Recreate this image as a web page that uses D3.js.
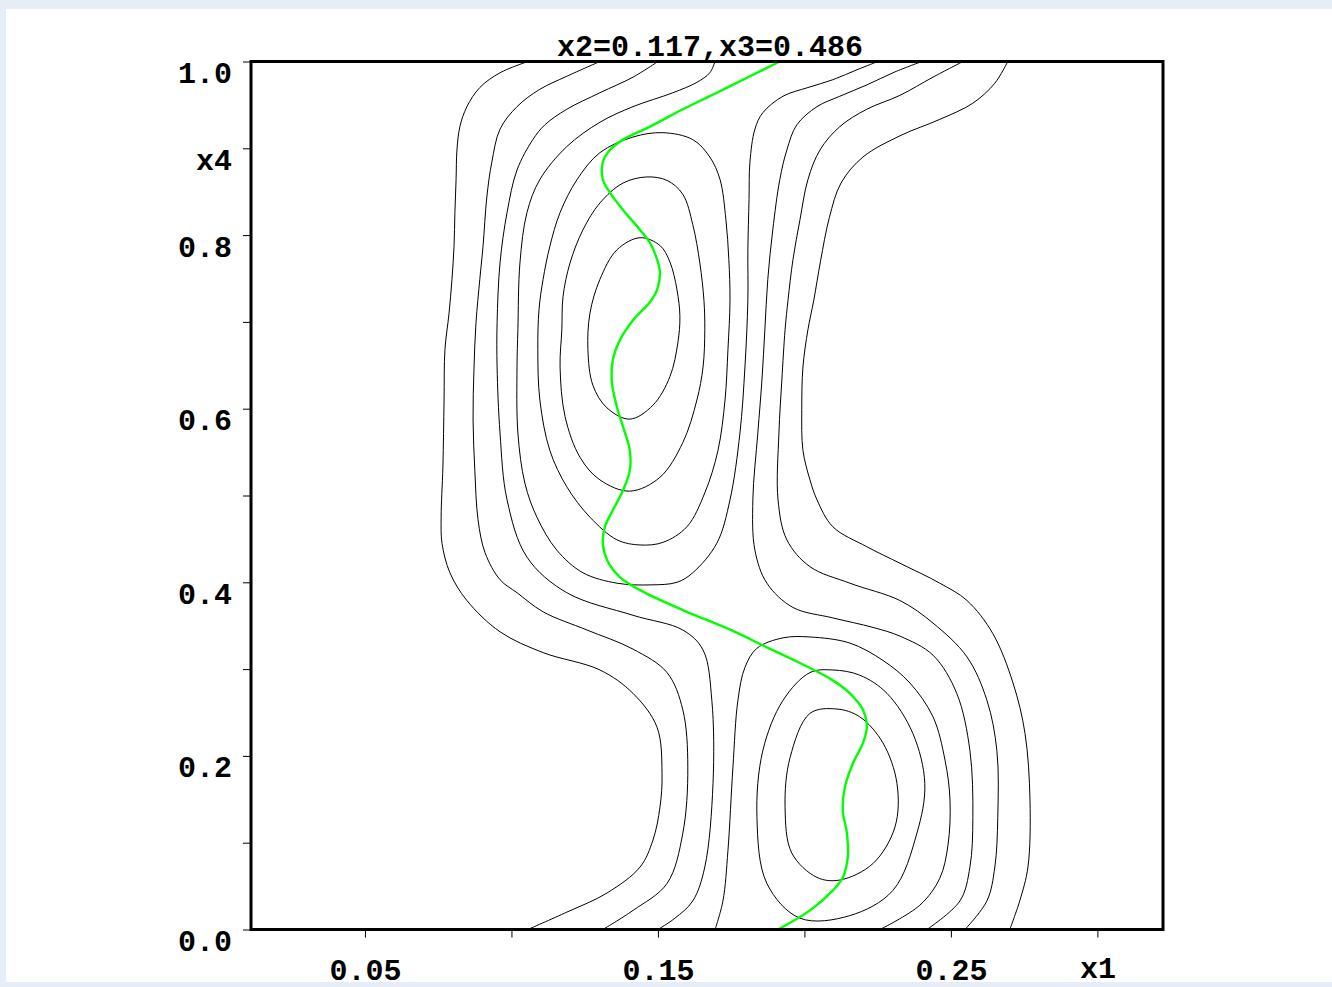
<!DOCTYPE html>
<html>
<head>
<meta charset="utf-8">
<script src="https://cdn.jsdelivr.net/npm/d3@7"></script>
<style>
  html, body { margin: 0; padding: 0; background: #e6edf6; }
  #panel { position: absolute; left: 6px; top: 9px; width: 1326px; height: 973px; background: #ffffff; overflow: hidden; }
  #panel svg { position: absolute; left: -6px; top: -9px; }
  text { font-family: "Liberation Mono", "DejaVu Sans Mono", monospace; font-weight: bold; font-size: 30px; fill: #000; }
</style>
</head>
<body>
<div id="panel"></div>
<script>
// Slice of the response surface: x1 across, x4 up, x2 and x3 held fixed.
const sliceLabel = "x2=0.117,x3=0.486";
const x1Domain = [0.0111, 0.3224];
const x4Domain = [0, 1];
const xTickValues = [0.05, 0.10, 0.15, 0.20, 0.25, 0.30];
const xTickLabels = ["0.05", "", "0.15", "", "0.25", "x1"];
const yTickValues = [0, 0.1, 0.2, 0.3, 0.4, 0.5, 0.6, 0.7, 0.8, 0.9, 1.0];
const yTickLabels = ["0.0", "", "0.2", "", "0.4", "", "0.6", "", "0.8", "x4", "1.0"];

// Level curves that run from the top edge to the bottom edge, left of the ridge
const leftBand1 = [[0.1056,1.000],[0.0961,0.987],[0.0892,0.970],[0.0848,0.948],[0.0824,0.925],[0.0814,0.898],[0.0811,0.864],[0.0807,0.826],[0.0804,0.787],[0.0797,0.749],[0.0787,0.710],[0.0773,0.668],[0.0770,0.610],[0.0766,0.533],[0.0760,0.475],[0.0763,0.445],[0.0790,0.411],[0.0848,0.379],[0.0961,0.343],[0.1108,0.319],[0.1302,0.299],[0.1415,0.272],[0.1497,0.233],[0.1514,0.180],[0.1507,0.141],[0.1483,0.103],[0.1439,0.072],[0.1326,0.042],[0.1189,0.020],[0.1056,0.000]];
const leftBand2 = [[0.1302,1.000],[0.1189,0.983],[0.1097,0.968],[0.1019,0.948],[0.0961,0.922],[0.0933,0.884],[0.0916,0.844],[0.0903,0.787],[0.0892,0.749],[0.0879,0.699],[0.0872,0.645],[0.0869,0.587],[0.0875,0.529],[0.0886,0.472],[0.0910,0.434],[0.0961,0.403],[0.1019,0.388],[0.1108,0.366],[0.1258,0.345],[0.1415,0.323],[0.1531,0.296],[0.1585,0.253],[0.1602,0.187],[0.1585,0.111],[0.1531,0.053],[0.1415,0.022],[0.1312,0.000]];
const leftBand3 = [[0.1500,1.000],[0.1415,0.982],[0.1302,0.964],[0.1189,0.945],[0.1114,0.927],[0.1073,0.910],[0.1019,0.875],[0.0985,0.826],[0.0961,0.768],[0.0951,0.699],[0.0951,0.648],[0.0961,0.572],[0.0985,0.495],[0.1053,0.429],[0.1189,0.388],[0.1415,0.362],[0.1585,0.345],[0.1654,0.322],[0.1684,0.264],[0.1688,0.168],[0.1660,0.072],[0.1619,0.033],[0.1558,0.013],[0.1500,0.000]];
// Arch around the upper peak, both ends on the top edge
const upperArch = [[0.1695,1.000],[0.1677,0.987],[0.1633,0.976],[0.1551,0.964],[0.1415,0.948],[0.1302,0.930],[0.1189,0.902],[0.1097,0.864],[0.1053,0.826],[0.1029,0.768],[0.1022,0.691],[0.1019,0.648],[0.1022,0.572],[0.1046,0.514],[0.1087,0.475],[0.1155,0.437],[0.1244,0.411],[0.1360,0.399],[0.1473,0.397],[0.1565,0.400],[0.1619,0.411],[0.1701,0.445],[0.1746,0.495],[0.1780,0.572],[0.1797,0.648],[0.1807,0.725],[0.1807,0.783],[0.1811,0.841],[0.1814,0.884],[0.1831,0.922],[0.1858,0.941],[0.1927,0.960],[0.2012,0.970],[0.2097,0.979],[0.2183,0.991],[0.2251,1.000]];
// Arch around the lower peak, both ends on the bottom edge
const lowerArch = [[0.1695,0.000],[0.1722,0.033],[0.1739,0.091],[0.1756,0.187],[0.1773,0.264],[0.1797,0.302],[0.1838,0.324],[0.1927,0.336],[0.2019,0.337],[0.2155,0.330],[0.2268,0.310],[0.2360,0.284],[0.2439,0.245],[0.2480,0.195],[0.2497,0.149],[0.2490,0.097],[0.2462,0.059],[0.2394,0.028],[0.2258,0.000]];
// Level curves that run from the top edge to the bottom edge, right of the ridge
const rightBand2 = [[0.2401,1.000],[0.2309,0.988],[0.2213,0.973],[0.2121,0.960],[0.2043,0.948],[0.1974,0.927],[0.1940,0.898],[0.1916,0.864],[0.1892,0.806],[0.1875,0.749],[0.1865,0.691],[0.1855,0.633],[0.1841,0.572],[0.1824,0.495],[0.1831,0.437],[0.1872,0.399],[0.1961,0.371],[0.2097,0.359],[0.2234,0.348],[0.2326,0.338],[0.2439,0.316],[0.2520,0.272],[0.2565,0.206],[0.2575,0.129],[0.2565,0.072],[0.2531,0.033],[0.2418,0.000]];
const rightBand3 = [[0.2541,1.000],[0.2439,0.982],[0.2326,0.961],[0.2213,0.945],[0.2121,0.925],[0.2053,0.898],[0.2012,0.864],[0.1985,0.818],[0.1961,0.772],[0.1944,0.725],[0.1934,0.691],[0.1923,0.633],[0.1913,0.572],[0.1910,0.495],[0.1940,0.449],[0.2019,0.418],[0.2155,0.399],[0.2326,0.379],[0.2439,0.353],[0.2555,0.314],[0.2623,0.264],[0.2657,0.206],[0.2660,0.129],[0.2650,0.072],[0.2623,0.033],[0.2548,0.000]];
const rightBand4 = [[0.2694,1.000],[0.2650,0.975],[0.2575,0.952],[0.2460,0.933],[0.2330,0.915],[0.2200,0.890],[0.2125,0.860],[0.2085,0.820],[0.2055,0.770],[0.2032,0.725],[0.2012,0.691],[0.1995,0.648],[0.1991,0.599],[0.1995,0.552],[0.2019,0.518],[0.2043,0.495],[0.2097,0.464],[0.2213,0.441],[0.2326,0.422],[0.2462,0.399],[0.2555,0.379],[0.2643,0.341],[0.2712,0.284],[0.2753,0.226],[0.2770,0.149],[0.2763,0.072],[0.2735,0.033],[0.2701,0.000]];

// Closed rings around the upper peak (outer to inner)
const upperRing3 = [[0.1517,0.918],[0.1619,0.910],[0.1677,0.890],[0.1712,0.864],[0.1732,0.818],[0.1742,0.772],[0.1746,0.725],[0.1739,0.668],[0.1729,0.610],[0.1705,0.552],[0.1660,0.503],[0.1599,0.464],[0.1517,0.446],[0.1439,0.443],[0.1360,0.449],[0.1268,0.475],[0.1189,0.510],[0.1131,0.552],[0.1097,0.610],[0.1090,0.668],[0.1094,0.714],[0.1108,0.749],[0.1131,0.787],[0.1166,0.826],[0.1224,0.864],[0.1302,0.895],[0.1415,0.913]];
const upperRing2 = [[0.1462,0.867],[0.1531,0.863],[0.1585,0.847],[0.1619,0.812],[0.1643,0.768],[0.1657,0.725],[0.1660,0.691],[0.1654,0.648],[0.1633,0.610],[0.1585,0.561],[0.1507,0.521],[0.1404,0.505],[0.1302,0.518],[0.1234,0.544],[0.1183,0.591],[0.1166,0.648],[0.1172,0.691],[0.1176,0.729],[0.1200,0.768],[0.1244,0.806],[0.1302,0.837],[0.1381,0.860]];
const upperRing1 = [[0.1439,0.797],[0.1507,0.788],[0.1541,0.769],[0.1565,0.737],[0.1575,0.706],[0.1568,0.676],[0.1541,0.637],[0.1483,0.604],[0.1404,0.588],[0.1326,0.601],[0.1278,0.627],[0.1261,0.668],[0.1268,0.710],[0.1302,0.749],[0.1360,0.783]];
// Closed rings around the lower peak (outer to inner)
const lowerRing2 = [[0.2097,0.299],[0.2189,0.293],[0.2282,0.272],[0.2370,0.226],[0.2411,0.168],[0.2384,0.111],[0.2302,0.045],[0.2155,0.016],[0.1985,0.013],[0.1872,0.053],[0.1838,0.129],[0.1858,0.206],[0.1927,0.264],[0.2019,0.296]];
const lowerRing1 = [[0.2111,0.254],[0.2189,0.245],[0.2268,0.215],[0.2316,0.168],[0.2309,0.118],[0.2234,0.076],[0.2121,0.057],[0.2043,0.060],[0.1957,0.088],[0.1934,0.141],[0.1951,0.198],[0.2019,0.249]];

// Ridge path traced through the slice
const ridgePath = [[0.1916,1.000],[0.1814,0.983],[0.1701,0.964],[0.1585,0.945],[0.1473,0.925],[0.1381,0.910],[0.1336,0.898],[0.1312,0.884],[0.1312,0.864],[0.1336,0.849],[0.1381,0.829],[0.1439,0.806],[0.1473,0.791],[0.1497,0.772],[0.1507,0.757],[0.1497,0.737],[0.1473,0.723],[0.1415,0.702],[0.1370,0.679],[0.1346,0.656],[0.1343,0.630],[0.1360,0.602],[0.1381,0.579],[0.1404,0.552],[0.1404,0.529],[0.1381,0.506],[0.1346,0.483],[0.1319,0.464],[0.1312,0.445],[0.1326,0.426],[0.1370,0.406],[0.1439,0.391],[0.1585,0.368],[0.1756,0.344],[0.1872,0.325],[0.1985,0.307],[0.2097,0.287],[0.2155,0.272],[0.2200,0.253],[0.2213,0.233],[0.2200,0.215],[0.2165,0.191],[0.2138,0.164],[0.2131,0.137],[0.2145,0.111],[0.2148,0.083],[0.2131,0.060],[0.2097,0.045],[0.2019,0.022],[0.1910,0.000]];

const openCurves = [leftBand1, leftBand2, leftBand3, upperArch, lowerArch, rightBand2, rightBand3, rightBand4];
const closedCurves = [upperRing3, upperRing2, upperRing1, lowerRing2, lowerRing1];

const W = 1332, H = 987;
const plot = { left: 251, right: 1163, top: 61.5, bottom: 929.5 };

const svg = d3.select("#panel").append("svg").attr("width", W).attr("height", H);

const x = d3.scaleLinear().domain(x1Domain).range([plot.left, plot.right]);
const y = d3.scaleLinear().domain(x4Domain).range([plot.bottom, plot.top]);

svg.append("clipPath").attr("id", "plot-clip")
  .append("rect")
  .attr("x", plot.left).attr("y", plot.top)
  .attr("width", plot.right - plot.left).attr("height", plot.bottom - plot.top);

const body = svg.append("g").attr("clip-path", "url(#plot-clip)");

const openLine = d3.line().x(d => x(d[0])).y(d => y(d[1])).curve(d3.curveCatmullRom.alpha(0.5));
const ringLine = d3.line().x(d => x(d[0])).y(d => y(d[1])).curve(d3.curveCatmullRomClosed.alpha(0.5));

body.selectAll("path.open").data(openCurves).join("path")
  .attr("class", "open").attr("d", openLine)
  .attr("fill", "none").attr("stroke", "#000").attr("stroke-width", 1);

body.selectAll("path.ring").data(closedCurves).join("path")
  .attr("class", "ring").attr("d", ringLine)
  .attr("fill", "none").attr("stroke", "#000").attr("stroke-width", 1);

body.append("path").datum(ridgePath).attr("d", openLine)
  .attr("fill", "none").attr("stroke", "#00ff00").attr("stroke-width", 2.4);

// Axes
const yAxis = d3.axisLeft(y).tickValues(yTickValues).tickSize(8)
  .tickFormat((d, i) => yTickLabels[i]);
const gy = svg.append("g").attr("transform", `translate(${plot.left},0)`).call(yAxis);
gy.select(".domain").remove();
gy.selectAll(".tick line").attr("stroke", "#000").attr("stroke-width", 1);
gy.selectAll(".tick text").attr("x", -19).attr("dy", null).attr("y", 21);

const xAxis = d3.axisBottom(x).tickValues(xTickValues).tickSize(8)
  .tickFormat((d, i) => xTickLabels[i]);
const gx = svg.append("g").attr("transform", `translate(0,${plot.bottom})`).call(xAxis);
gx.select(".domain").remove();
gx.selectAll(".tick line").attr("stroke", "#000").attr("stroke-width", 1);
gx.selectAll(".tick text").attr("dy", null)
  .attr("y", (d, i) => xTickLabels[i] === "x1" ? 48 : 50);

// Frame
svg.append("rect")
  .attr("x", plot.left).attr("y", plot.top)
  .attr("width", plot.right - plot.left).attr("height", plot.bottom - plot.top)
  .attr("fill", "none").attr("stroke", "#000").attr("stroke-width", 3);

// Slice title
svg.append("text")
  .attr("x", (plot.left + plot.right) / 2 + 3).attr("y", 56)
  .attr("text-anchor", "middle")
  .text(sliceLabel);
</script>
</body>
</html>
